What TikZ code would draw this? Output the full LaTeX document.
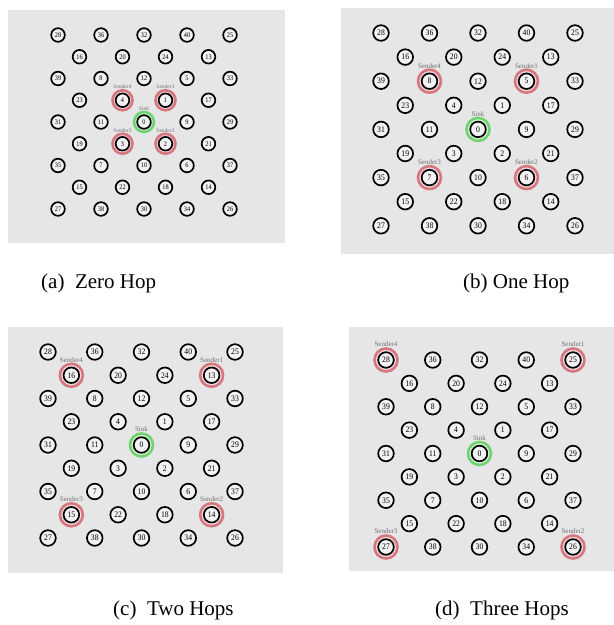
\documentclass[tikz,border=0pt]{standalone}
\usepackage{fontspec}
\setmainfont{Liberation Serif}
\usetikzlibrary{calc}
\pgfdeclarelayer{back}
\pgfdeclarelayer{ring}
\pgfsetlayers{back,ring,main}
\definecolor{panelgray}{HTML}{E6E6E6}
\definecolor{nodefill}{HTML}{F2F2F2}
\definecolor{ringred}{HTML}{D6767F}
\definecolor{ringredfill}{HTML}{F2DADC}
\definecolor{ringgreen}{HTML}{6FD46F}
\definecolor{ringgreenfill}{HTML}{D8F2D8}
\definecolor{lblgray}{HTML}{707070}
\tikzset{
 nd/.style={circle, draw=black, line width=1.7pt, fill=nodefill, inner sep=0pt, text=black},
 senderring/.style={draw=ringred, line width=2.6pt, fill=ringredfill},
 sinkring/.style={draw=ringgreen, line width=2.6pt, fill=ringgreenfill},
 lbl/.style={text=lblgray, inner sep=0.3pt},
 captext/.style={anchor=base west, inner sep=0pt, font=\fontsize{21}{21}\selectfont},
}
\newcommand{\gridpanel}[7]{%
 \foreach \lab/\cc/\rr in {28/0/0,36/2/0,32/4/0,40/6/0,25/8/0,
 16/1/1,20/3/1,24/5/1,13/7/1,
 39/0/2,8/2/2,12/4/2,5/6/2,33/8/2,
 23/1/3,4/3/3,1/5/3,17/7/3,
 31/0/4,11/2/4,0/4/4,9/6/4,29/8/4,
 19/1/5,3/3/5,2/5/5,21/7/5,
 35/0/6,7/2/6,10/4/6,6/6/6,37/8/6,
 15/1/7,22/3/7,18/5/7,14/7/7,
 27/0/8,38/2/8,30/4/8,34/6/8,26/8/8}{%
 \node[nd, minimum size={2*#6}, font=\fontsize{#7}{#7}\selectfont] (#1\lab) at ({#2+\cc*#4},{#3+\rr*#5}) {\scalebox{0.9}[1]{\lab}};
 }%
}
\newcommand{\ringmark}[5]{%
 \begin{pgfonlayer}{ring}
 \draw[#4] (#1.center) circle (#3);
 \end{pgfonlayer}
 \node[lbl, anchor=south, font=\fontsize{#5}{#5}\selectfont] (#1lbl) at ($(#1.center)+(0,-#3-1)$) {#2};
}
\begin{document}
\begin{tikzpicture}[x=1pt,y=-1pt]
\useasboundingbox (0,0) rectangle (614,625);
\begin{pgfonlayer}{back}
 \fill[panelgray] (8,10) rectangle (285,243);
 \fill[panelgray] (341,8) rectangle (614,254);
 \fill[panelgray] (8,327) rectangle (283,573);
 \fill[panelgray] (349,327) rectangle (614,571);
\end{pgfonlayer}
% (a)
\gridpanel{a}{58}{35}{21.5}{21.75}{6.8}{7}
\ringmark{a0}{Sink}{10}{sinkring}{5.5}
\ringmark{a1}{Sender1}{10}{senderring}{5.5}
\ringmark{a2}{Sender2}{10}{senderring}{5.5}
\ringmark{a3}{Sender3}{10}{senderring}{5.5}
\ringmark{a4}{Sender4}{10}{senderring}{5.5}
% (b)
\gridpanel{b}{381}{33}{24.25}{24.1}{7.8}{8.5}
\ringmark{b0}{Sink}{11.5}{sinkring}{7}
\ringmark{b5}{Sender1}{11.5}{senderring}{7}
\ringmark{b6}{Sender2}{11.5}{senderring}{7}
\ringmark{b7}{Sender3}{11.5}{senderring}{7}
\ringmark{b8}{Sender4}{11.5}{senderring}{7}
% (c)
\gridpanel{c}{48}{352}{23.375}{23.25}{7.8}{8.5}
\ringmark{c0}{Sink}{11.5}{sinkring}{7}
\ringmark{c13}{Sender1}{11.5}{senderring}{7}
\ringmark{c14}{Sender2}{11.5}{senderring}{7}
\ringmark{c15}{Sender3}{11.5}{senderring}{7}
\ringmark{c16}{Sender4}{11.5}{senderring}{7}
% (d)
\gridpanel{d}{386}{360}{23.375}{23.375}{7.8}{8.5}
\ringmark{d0}{Sink}{11.5}{sinkring}{7}
\ringmark{d25}{Sender1}{11.5}{senderring}{7}
\ringmark{d26}{Sender2}{11.5}{senderring}{7}
\ringmark{d27}{Sender3}{11.5}{senderring}{7}
\ringmark{d28}{Sender4}{11.5}{senderring}{7}
% captions
\node[captext] (capa) at (41,288) {(a)\ \ Zero Hop};
\node[captext] (capb) at (463,288) {(b) One Hop};
\node[captext] (capc) at (113,615) {(c)\ \ Two Hops};
\node[captext] (capd) at (435,615) {(d)\ \ Three Hops};
\end{tikzpicture}
\end{document}
